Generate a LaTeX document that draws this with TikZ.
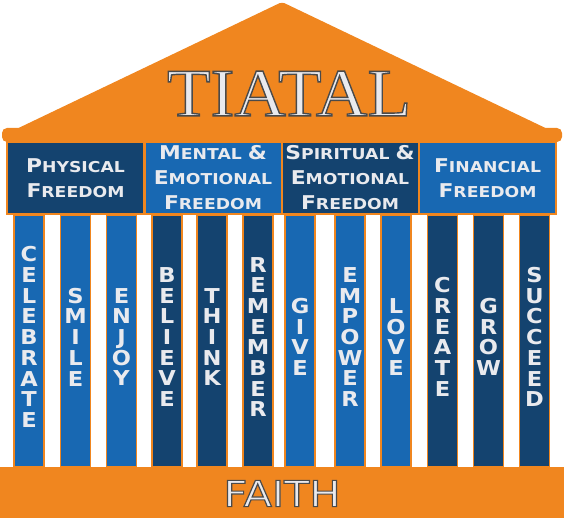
\documentclass[tikz,border=0pt]{standalone}
\usepackage{fontspec}
\newfontfamily\hdrf{DejaVu Sans}[FakeStretch=1.15]
\newfontfamily\colf{DejaVu Sans}[FakeStretch=1.1]
\newfontfamily\titlef{Liberation Serif}[FakeStretch=1.05]
\newfontfamily\faithf{DejaVu Sans}[FakeStretch=1.15]
\definecolor{orng}{HTML}{F0861F}
\definecolor{dblue}{HTML}{14436F}
\definecolor{mblue}{HTML}{1868B2}
\definecolor{ltext}{HTML}{E9EAEE}
\definecolor{outl}{HTML}{4A4A4A}
\newcommand\myscap[2]{{\fontsize{19}{19}\selectfont #1}{\fontsize{15}{15}\selectfont #2}}
\newcommand\amp{{\fontsize{19}{19}\selectfont\&}}
\newcommand\outlined[2]{{\color{ltext}\special{pdf:code 2 Tr #1 w 0.29 0.29 0.29 RG}#2\special{pdf:code 0 Tr}}}
\begin{document}
\begin{tikzpicture}[x=1pt,y=-1pt,
  hdr/.style={draw=orng, line width=2pt, minimum width=137pt, minimum height=72pt, inner sep=0pt},
  hdrtext/.style={text=ltext, align=center, font=\hdrf\bfseries\fontsize{15}{25}\selectfont, inner sep=0pt},
  col/.style={draw=orng, line width=1.2pt, minimum width=30pt, minimum height=252pt, inner sep=0pt},
  coltext/.style={text=ltext, align=center, font=\colf\bfseries\fontsize{20.5}{20.7}\selectfont, inner sep=0pt, yshift=4pt}]
\useasboundingbox (0,0) rectangle (564,518);
% roof
\fill[orng, rounded corners=3pt] (6,134) -- (282,2) -- (558,134) -- cycle;
\fill[orng, rounded corners=5pt] (2,128) rectangle (562,142);
\node[inner sep=0pt] (title) at (289,93.5) {\titlef\fontsize{68}{68}\selectfont\outlined{1.4}{TIATAL}};
% base
\fill[orng] (0,467) rectangle (564,518);
\node[inner sep=0pt] (faith) at (282,493.5) {\faithf\fontsize{36}{36}\selectfont\outlined{1.2}{FAITH}};
% columns
\foreach \x/\c/\n/\w in {29/mblue/c1/{C\\E\\L\\E\\B\\R\\A\\T\\E},
  75.5/mblue/c2/{S\\M\\I\\L\\E},
  121.5/mblue/c3/{E\\N\\J\\O\\Y},
  167/dblue/c4/{B\\E\\L\\I\\E\\V\\E},
  212/dblue/c5/{T\\H\\I\\N\\K},
  258/dblue/c6/{R\\E\\M\\E\\M\\B\\E\\R},
  300/mblue/c7/{G\\I\\V\\E},
  350/mblue/c8/{E\\M\\P\\O\\W\\E\\R},
  396/mblue/c9/{L\\O\\V\\E},
  442.5/dblue/c10/{C\\R\\E\\A\\T\\E},
  488.5/dblue/c11/{G\\R\\O\\W},
  534.5/dblue/c12/{S\\U\\C\\C\\E\\E\\D}}{
  \node[col, fill=\c] (\n) at (\x,341) {};
  \node[coltext] (\n t) at (\n.center) {\w};
}
% headers
\node[hdr, fill=dblue] (h1) at (75.5,178) {};
\node[hdr, fill=mblue] (h2) at (213,178) {};
\node[hdr, fill=dblue] (h3) at (350,178) {};
\node[hdr, fill=mblue] (h4) at (487.5,178) {};
\node[hdrtext] (h1t) at (h1.center) {\myscap{P}{HYSICAL}\\\myscap{F}{REEDOM}};
\node[hdrtext] (h2t) at (h2.center) {\myscap{M}{ENTAL} \amp\\\myscap{E}{MOTIONAL}\\\myscap{F}{REEDOM}};
\node[hdrtext] (h3t) at (h3.center) {\myscap{S}{PIRITUAL} \amp\\\myscap{E}{MOTIONAL}\\\myscap{F}{REEDOM}};
\node[hdrtext] (h4t) at (h4.center) {\myscap{F}{INANCIAL}\\\myscap{F}{REEDOM}};
\end{tikzpicture}
\end{document}
